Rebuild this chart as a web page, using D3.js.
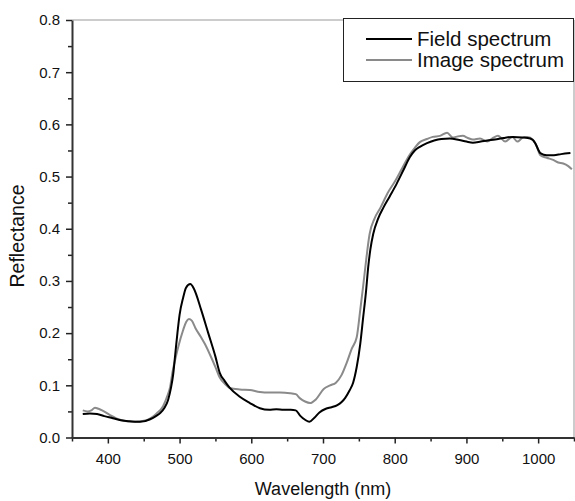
<!DOCTYPE html>
<html lang="en">
<head>
	<meta charset="UTF-8">
	<title>spectra</title>
	<style>
		body { margin: 0; background: #fff; }
		text { font-family: "Liberation Sans", Arial, sans-serif; fill: #111; }
	</style>
</head>
<body>
	<svg id="cont" width="575" height="501"></svg>
</body>
<script src="https://cdn.jsdelivr.net/npm/d3@7"></script>
<script>
	// field spectrum (black)
	let fieldWl = [365,375,385,395,407,418,430,445,459,467,473,479,484,488,491,494,497,500,505,509,515,520,530,540,550,556,563,570,584,598,612,625,635,645,655,662,668,675,681,688,695,704,712,720,726,731,737,742,747,752,756,760,763,766,770,777,784,793,803,812,821,828,835,845,855,865,877,890,900,909,920,929,940,952,965,978,989,996,1000,1003,1012,1022,1032,1045];
	let fieldR = [0.045,0.046,0.045,0.041,0.037,0.033,0.031,0.030,0.035,0.041,0.047,0.057,0.072,0.095,0.12,0.16,0.2,0.235,0.268,0.287,0.294,0.285,0.245,0.2,0.155,0.124,0.108,0.095,0.078,0.066,0.056,0.053,0.054,0.053,0.053,0.052,0.042,0.034,0.030,0.038,0.048,0.055,0.058,0.062,0.068,0.076,0.09,0.105,0.135,0.18,0.23,0.28,0.326,0.36,0.39,0.42,0.44,0.462,0.487,0.512,0.537,0.55,0.557,0.564,0.569,0.572,0.573,0.570,0.567,0.565,0.567,0.569,0.571,0.574,0.576,0.575,0.573,0.564,0.552,0.545,0.541,0.541,0.543,0.545];

	// image spectrum (gray)
	let imageWl = [365,372,377,382,387,392,403,417,435,454,462,468,477,483,487,490,494,498,505,509,513,517,522,530,535,542,550,556,563,570,584,598,612,625,640,654,662,668,675,682,690,701,710,718,726,733,740,747,752,756,759,765,772,780,790,800,810,820,828,835,845,853,863,873,881,888,895,902,909,919,929,937,944,954,964,971,978,985,993,998,1003,1012,1021,1028,1035,1042,1047];
	let imageR = [0.052,0.050,0.052,0.057,0.055,0.052,0.043,0.034,0.030,0.033,0.039,0.046,0.060,0.08,0.098,0.124,0.15,0.173,0.206,0.221,0.227,0.224,0.210,0.192,0.180,0.160,0.135,0.115,0.103,0.095,0.092,0.091,0.087,0.086,0.086,0.085,0.083,0.075,0.069,0.066,0.073,0.093,0.100,0.105,0.120,0.143,0.170,0.192,0.245,0.29,0.326,0.39,0.42,0.44,0.468,0.49,0.515,0.54,0.555,0.566,0.572,0.576,0.578,0.584,0.575,0.577,0.578,0.574,0.571,0.573,0.567,0.574,0.578,0.567,0.576,0.567,0.574,0.576,0.570,0.558,0.541,0.536,0.532,0.527,0.525,0.520,0.514];

	let xTicks = [400,500,600,700,800,900,1000];
	let yTicks = [0.0,0.1,0.2,0.3,0.4,0.5,0.6,0.7,0.8];
	let legendNames = ["Field spectrum","Image spectrum"];
	let colors = ["#000000","#8a8a8a"];

	let svg = d3.select("#cont");
	let pLeft = 72, pRight = 574, pTop = 20, pBottom = 437.5;

	let x = d3.scaleLinear().domain([350,1050]).range([pLeft,pRight]);
	let y = d3.scaleLinear().domain([0,0.8]).range([pBottom,pTop]);

	// frame top/right
	svg.append("path")
		.attr("d", `M${pLeft},${pTop}H${pRight}V${pBottom}`)
		.attr("fill","none").attr("stroke","#999").attr("stroke-width",1);

	// minor ticks
	let xMinor = d3.range(350,1051,50).filter(d=>d%100!=0);
	let yMinor = d3.range(0.05,0.8,0.1);
	svg.append("g")
		.attr("transform",`translate(0,${pBottom})`)
		.call(d3.axisBottom(x).tickValues(xMinor).tickSize(4).tickFormat(""))
		.call(g=>g.select(".domain").remove());
	svg.append("g")
		.attr("transform",`translate(${pLeft},0)`)
		.call(d3.axisLeft(y).tickValues(yMinor).tickSize(4).tickFormat(""))
		.call(g=>g.select(".domain").remove());

	svg.append("g")
		.attr("transform",`translate(0,${pBottom})`)
		.call(d3.axisBottom(x).tickValues(xTicks).tickSize(6).tickSizeOuter(0).tickPadding(10).tickFormat(d3.format("d")));
	svg.append("g")
		.attr("transform",`translate(${pLeft},0)`)
		.call(d3.axisLeft(y).tickValues(yTicks).tickSize(6).tickSizeOuter(0).tickPadding(6).tickFormat(d3.format(".1f")));

	svg.selectAll(".tick line").attr("stroke","#222").attr("stroke-width",1.5);
	svg.selectAll(".domain").attr("stroke","#333").attr("stroke-width",2);
	svg.selectAll(".tick text").style("font-size","15px").style("font-family","Liberation Sans, Arial, sans-serif").attr("fill","#111");

	let line = d3.line().x(d=>x(d[0])).y(d=>y(d[1])).curve(d3.curveMonotoneX);
	let series = [d3.zip(fieldWl,fieldR), d3.zip(imageWl,imageR)];

	// gray first, then black on top
	[1,0].forEach(i=>{
		svg.append("path")
			.datum(series[i])
			.attr("d",line)
			.attr("fill","none")
			.attr("stroke",colors[i])
			.attr("stroke-width",2);
	});

	// legend
	let lg = svg.append("g");
	lg.append("rect").attr("x",343.5).attr("y",18.5).attr("width",230).attr("height",63)
		.attr("fill","#fff").attr("stroke","#222").attr("stroke-width",1);
	legendNames.forEach((n,i)=>{
		let yy = 39 + i*21;
		lg.append("line").attr("x1",366).attr("x2",412).attr("y1",yy).attr("y2",yy)
			.attr("stroke",colors[i]).attr("stroke-width",2);
		lg.append("text").attr("x",417).attr("y",yy+7).text(n).style("font-size","20.5px");
	});

	svg.append("text").attr("x",(pLeft+pRight)/2).attr("y",495).attr("text-anchor","middle")
		.style("font-size","18px").text("Wavelength (nm)");
	svg.append("text").attr("transform",`translate(24,236) rotate(-90)`)
		.attr("text-anchor","middle").style("font-size","19.5px").text("Reflectance");
</script>
</html>
